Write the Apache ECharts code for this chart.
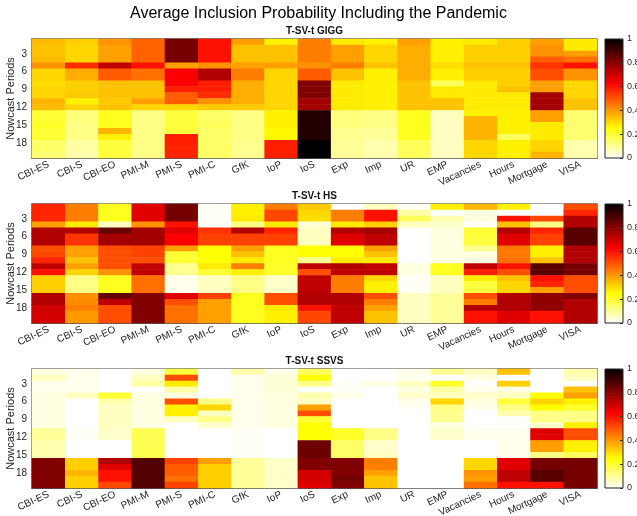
<!DOCTYPE html>
<html>
<head>
<meta charset="utf-8">
<script src="https://cdn.jsdelivr.net/npm/echarts@6/dist/echarts.min.js"></script>
<style>
  html, body { margin: 0; padding: 0; background: #fff; }
  #main { width: 637px; height: 516px; }
</style>
</head>
<body>
<div id="main"></div>
<script>
// indicators on the x axis, nowcast periods on the y axis
var indicators = ['CBI-ES', 'CBI-S', 'CBI-EO', 'PMI-M', 'PMI-S', 'PMI-C', 'GfK', 'IoP', 'IoS',
    'Exp', 'Imp', 'UR', 'EMP', 'Vacancies', 'Hours', 'Mortgage', 'VISA'];
var periods = ['1', '2', '3', '4', '5', '6', '7', '8', '9', '10',
    '11', '12', '13', '14', '15', '16', '17', '18', '19', '20'];
var panelTitles = ['T-SV-t GIGG', 'T-SV-t HS', 'T-SV-t SSVS'];

// one row per indicator, 20 nowcast periods each
var giggProb = [
    [0.35,0.34,0.34,0.35,0.41,0.31,0.31,0.30,0.31,0.31,0.36,0.35,0.20,0.20,0.21,0.20,0.20,0.15,0.15,0.14],
    [0.32,0.31,0.31,0.31,0.56,0.37,0.37,0.32,0.32,0.33,0.27,0.31,0.13,0.13,0.12,0.12,0.12,0.09,0.09,0.08],
    [0.41,0.39,0.39,0.39,0.72,0.49,0.49,0.34,0.34,0.34,0.33,0.34,0.22,0.22,0.22,0.36,0.27,0.19,0.19,0.19],
    [0.48,0.48,0.48,0.48,0.60,0.46,0.46,0.34,0.34,0.34,0.39,0.31,0.12,0.12,0.12,0.12,0.12,0.12,0.12,0.12],
    [0.83,0.83,0.83,0.83,0.39,0.63,0.63,0.63,0.58,0.49,0.49,0.31,0.19,0.19,0.19,0.19,0.58,0.58,0.57,0.57],
    [0.60,0.60,0.60,0.60,0.41,0.74,0.74,0.58,0.58,0.56,0.41,0.33,0.15,0.15,0.16,0.15,0.15,0.15,0.15,0.15],
    [0.39,0.34,0.34,0.34,0.39,0.44,0.44,0.37,0.37,0.37,0.37,0.33,0.12,0.12,0.12,0.12,0.12,0.11,0.11,0.11],
    [0.27,0.34,0.34,0.34,0.39,0.31,0.31,0.31,0.31,0.31,0.31,0.31,0.27,0.27,0.27,0.26,0.26,0.58,0.58,0.58],
    [0.44,0.44,0.44,0.44,0.41,0.49,0.49,0.81,0.81,0.81,0.76,0.76,0.95,0.95,0.95,0.95,0.95,1.00,1.00,1.00],
    [0.28,0.39,0.39,0.39,0.44,0.34,0.34,0.28,0.28,0.28,0.28,0.28,0.13,0.13,0.13,0.11,0.11,0.10,0.10,0.10],
    [0.27,0.31,0.31,0.31,0.34,0.27,0.27,0.27,0.27,0.27,0.27,0.27,0.12,0.12,0.12,0.10,0.10,0.08,0.08,0.08],
    [0.39,0.37,0.37,0.37,0.37,0.37,0.37,0.34,0.34,0.34,0.34,0.34,0.22,0.22,0.22,0.22,0.22,0.16,0.16,0.16],
    [0.27,0.27,0.27,0.27,0.30,0.27,0.27,0.16,0.28,0.28,0.34,0.34,0.06,0.06,0.06,0.06,0.06,0.06,0.06,0.06],
    [0.28,0.32,0.32,0.32,0.34,0.32,0.32,0.28,0.28,0.28,0.28,0.28,0.27,0.36,0.36,0.36,0.36,0.31,0.31,0.31],
    [0.32,0.32,0.32,0.32,0.34,0.32,0.32,0.32,0.34,0.28,0.28,0.28,0.27,0.27,0.27,0.27,0.16,0.27,0.27,0.27],
    [0.39,0.41,0.41,0.49,0.55,0.51,0.51,0.39,0.39,0.76,0.76,0.76,0.39,0.39,0.28,0.28,0.28,0.31,0.31,0.36],
    [0.28,0.28,0.39,0.46,0.60,0.41,0.41,0.31,0.31,0.31,0.34,0.34,0.14,0.14,0.14,0.14,0.14,0.08,0.08,0.08]
];
var hsProb = [
    [0.57,0.57,0.57,0.39,0.74,0.74,0.74,0.51,0.52,0.57,0.72,0.60,0.32,0.32,0.32,0.74,0.74,0.69,0.69,0.69],
    [0.44,0.44,0.44,0.28,0.74,0.55,0.55,0.39,0.39,0.34,0.39,0.31,0.12,0.12,0.12,0.41,0.42,0.44,0.40,0.40],
    [0.22,0.22,0.22,0.06,0.85,0.76,0.76,0.51,0.51,0.51,0.51,0.41,0.22,0.22,0.22,0.85,0.72,0.51,0.51,0.51],
    [0.67,0.67,0.67,0.41,0.76,0.76,0.76,0.53,0.53,0.51,0.72,0.72,0.46,0.46,0.46,0.81,0.81,0.81,0.81,0.81],
    [0.83,0.83,0.83,0.60,0.67,0.63,0.63,0.39,0.20,0.20,0.11,0.11,0.02,0.02,0.02,0.67,0.51,0.46,0.46,0.46],
    [0.01,0.01,0.01,0.01,0.55,0.53,0.53,0.25,0.25,0.25,0.28,0.20,0.06,0.06,0.06,0.53,0.39,0.39,0.39,0.39],
    [0.27,0.27,0.28,0.12,0.74,0.53,0.53,0.39,0.34,0.28,0.44,0.27,0.12,0.12,0.12,0.22,0.22,0.22,0.22,0.22],
    [0.44,0.52,0.52,0.28,0.57,0.53,0.53,0.22,0.22,0.22,0.21,0.21,0.05,0.05,0.05,0.51,0.51,0.28,0.27,0.27],
    [0.33,0.31,0.30,0.04,0.06,0.06,0.06,0.25,0.25,0.11,0.72,0.51,0.72,0.72,0.72,0.74,0.74,0.60,0.52,0.52],
    [0.00,0.44,0.44,0.28,0.74,0.67,0.67,0.25,0.25,0.28,0.74,0.72,0.44,0.44,0.44,0.74,0.74,0.72,0.72,0.72],
    [0.06,0.60,0.60,0.32,0.76,0.72,0.72,0.39,0.34,0.28,0.72,0.72,0.31,0.27,0.27,0.51,0.44,0.39,0.34,0.34],
    [0.01,0.09,0.16,0.06,0.00,0.00,0.00,0.00,0.00,0.00,0.03,0.03,0.01,0.01,0.01,0.06,0.06,0.06,0.06,0.06],
    [0.27,0.00,0.08,0.05,0.03,0.03,0.03,0.03,0.03,0.03,0.22,0.22,0.06,0.06,0.06,0.10,0.10,0.10,0.10,0.10],
    [0.36,0.03,0.03,0.00,0.20,0.19,0.19,0.11,0.03,0.03,0.72,0.58,0.28,0.19,0.19,0.51,0.44,0.74,0.60,0.60],
    [0.27,0.00,0.60,0.34,0.74,0.67,0.67,0.45,0.45,0.46,0.60,0.51,0.34,0.31,0.31,0.74,0.74,0.74,0.67,0.67],
    [0.00,0.00,0.52,0.12,0.57,0.53,0.53,0.27,0.27,0.34,0.87,0.87,0.60,0.57,0.39,0.79,0.79,0.79,0.60,0.60],
    [0.51,0.57,0.74,0.74,0.87,0.87,0.87,0.74,0.74,0.74,0.83,0.83,0.51,0.51,0.51,0.81,0.74,0.74,0.74,0.74]
];
var ssvsProb = [
    [0.03,0.06,0.02,0.02,0.03,0.03,0.03,0.03,0.03,0.03,0.10,0.10,0.08,0.08,0.08,0.81,0.81,0.81,0.81,0.81],
    [0.02,0.02,0.02,0.02,0.06,0.00,0.00,0.00,0.00,0.00,0.01,0.01,0.00,0.00,0.00,0.32,0.32,0.36,0.32,0.32],
    [0.00,0.00,0.00,0.00,0.20,0.08,0.06,0.06,0.06,0.06,0.05,0.05,0.00,0.00,0.00,0.74,0.67,0.60,0.60,0.52],
    [0.03,0.06,0.09,0.00,0.03,0.03,0.03,0.03,0.03,0.03,0.17,0.17,0.17,0.17,0.17,0.88,0.88,0.88,0.88,0.88],
    [0.19,0.51,0.28,0.09,0.03,0.51,0.27,0.27,0.06,0.00,0.00,0.00,0.00,0.00,0.00,0.53,0.49,0.49,0.46,0.53],
    [0.00,0.00,0.00,0.00,0.00,0.12,0.31,0.06,0.12,0.05,0.00,0.00,0.00,0.00,0.00,0.39,0.32,0.32,0.32,0.32],
    [0.08,0.02,0.02,0.02,0.02,0.02,0.02,0.02,0.02,0.02,0.01,0.01,0.01,0.01,0.01,0.10,0.10,0.10,0.10,0.10],
    [0.02,0.04,0.04,0.04,0.03,0.03,0.03,0.03,0.03,0.03,0.00,0.00,0.00,0.00,0.00,0.05,0.05,0.05,0.05,0.05],
    [0.16,0.24,0.12,0.00,0.08,0.06,0.39,0.51,0.20,0.25,0.25,0.25,0.84,0.84,0.84,0.81,0.81,0.69,0.69,0.67],
    [0.00,0.00,0.01,0.01,0.02,0.00,0.00,0.00,0.00,0.00,0.21,0.21,0.15,0.15,0.15,0.81,0.81,0.81,0.83,0.81],
    [0.00,0.00,0.03,0.00,0.00,0.00,0.00,0.00,0.00,0.00,0.12,0.12,0.05,0.05,0.06,0.44,0.44,0.39,0.34,0.34],
    [0.02,0.02,0.06,0.03,0.05,0.02,0.01,0.00,0.00,0.00,0.00,0.00,0.00,0.00,0.00,0.00,0.00,0.00,0.00,0.00],
    [0.11,0.00,0.21,0.09,0.06,0.31,0.12,0.11,0.11,0.03,0.05,0.05,0.00,0.00,0.00,0.00,0.00,0.00,0.00,0.00],
    [0.06,0.03,0.00,0.02,0.05,0.03,0.02,0.00,0.00,0.00,0.02,0.02,0.00,0.00,0.00,0.31,0.31,0.41,0.39,0.46],
    [0.34,0.00,0.32,0.03,0.06,0.19,0.12,0.08,0.00,0.00,0.02,0.02,0.02,0.02,0.02,0.67,0.67,0.72,0.72,0.60],
    [0.00,0.00,0.00,0.00,0.25,0.31,0.25,0.12,0.12,0.05,0.67,0.67,0.39,0.39,0.12,0.83,0.83,0.87,0.87,0.60],
    [0.08,0.06,0.00,0.34,0.39,0.27,0.21,0.12,0.12,0.27,0.51,0.51,0.27,0.27,0.16,0.83,0.83,0.83,0.83,0.83]
];
var panels = [giggProb, hsProb, ssvsProb];

// flipped "hot" colormap: white -> yellow -> red -> black
var hotColors = ['#ffffff', '#ffff80', '#ffff00', '#ffaa00', '#ff5500', '#ff0000', '#aa0000', '#550000', '#000000'];

var tops = [39, 204, 369];
var plotLeft = 32, plotW = 565, plotH = 119;
var barLeft = 605, barW = 18;
var txtColor = '#262626';
var fontFam = '"Liberation Sans", Arial, sans-serif';

var grid = [], xAxis = [], yAxis = [], series = [], title = [], graphic = [];

title.push({
    text: 'Average Inclusion Probability Including the Pandemic',
    left: 'center', top: 6, padding: 0,
    textStyle: {fontSize: 16, fontWeight: 'normal', color: '#000', fontFamily: fontFam}
});

panels.forEach(function (probs, p) {
    var g = p * 2
    grid.push({left: plotLeft, top: tops[p], width: plotW, height: plotH, outerBoundsMode: 'none',
        show: true, borderColor: '#555', borderWidth: 1.5, backgroundColor: 'transparent'})
    grid.push({left: barLeft, top: tops[p], width: barW, height: plotH, outerBoundsMode: 'none'})

    title.push({
        text: panelTitles[p], left: plotLeft + plotW / 2, top: tops[p] - 13, textAlign: 'center', padding: 0,
        textStyle: {fontSize: 10, fontWeight: 'bold', color: '#111', fontFamily: fontFam}
    })

    xAxis.push({
        type: 'category', gridIndex: g, data: indicators,
        axisLine: {show: true, lineStyle: {color: '#555'}},
        axisTick: {show: true, inside: true, length: 3, alignWithLabel: true, lineStyle: {color: '#555'}},
        axisLabel: {interval: 0, rotate: 25, fontSize: 10, color: txtColor, margin: 6, fontFamily: fontFam},
        splitLine: {show: false}, splitArea: {show: false}
    })
    yAxis.push({
        type: 'category', gridIndex: g, data: periods, inverse: true,
        name: 'Nowcast Periods', nameLocation: 'middle', nameGap: 16, nameMoveOverlap: false,
        nameTextStyle: {fontSize: 11, color: txtColor, fontFamily: fontFam},
        axisLine: {show: true, lineStyle: {color: '#555'}},
        axisTick: {show: true, inside: true, length: 3, alignWithLabel: true, lineStyle: {color: '#555'},
            interval: function (i) { return (i + 1) % 3 === 0 }},
        axisLabel: {fontSize: 10, color: txtColor, margin: 5, fontFamily: fontFam,
            interval: function (i) { return (i + 1) % 3 === 0 }},
        splitLine: {show: false}, splitArea: {show: false}
    })

    // colorbar axes
    xAxis.push({type: 'category', gridIndex: g + 1, data: [''], show: false})
    yAxis.push({
        type: 'value', gridIndex: g + 1, min: 0, max: 1, interval: 0.2, position: 'right',
        axisLine: {show: false},
        axisTick: {show: true, inside: true, length: 3, lineStyle: {color: '#333'}},
        axisLabel: {fontSize: 9, color: txtColor, margin: 4, fontFamily: fontFam},
        splitLine: {show: false}
    })
    graphic.push({
        type: 'rect', z: 0,
        shape: {x: barLeft, y: tops[p], width: barW, height: plotH},
        style: {
            fill: new echarts.graphic.LinearGradient(0, 1, 0, 0, hotColors.map(function (c, i) {
                return {offset: i / (hotColors.length - 1), color: c}
            })),
            stroke: '#222', lineWidth: 1
        }
    })

    var data = []
    probs.forEach(function (col, c) {
        col.forEach(function (v, r) { data.push([c, r, v]) })
    })
    series.push({
        type: 'heatmap', xAxisIndex: g, yAxisIndex: g, data: data,
        itemStyle: {borderWidth: 0}, emphasis: {disabled: true}
    })
});

var option = {
    backgroundColor: '#fff',
    animation: false,
    title: title,
    grid: grid,
    xAxis: xAxis,
    yAxis: yAxis,
    visualMap: {show: false, min: 0, max: 1, seriesIndex: [0, 1, 2], inRange: {color: hotColors}},
    graphic: graphic,
    series: series
};

var chart = echarts.init(document.getElementById('main'));
chart.setOption(option);
</script>
</body>
</html>
